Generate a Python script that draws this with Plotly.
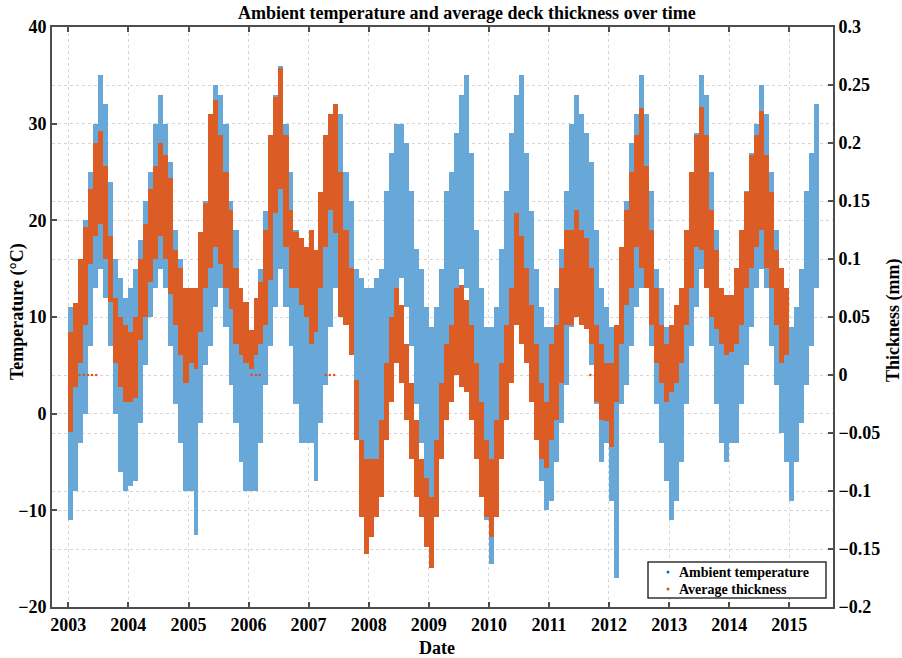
import pandas as pd
import plotly.graph_objects as go

# Monthly envelopes of the hourly records (lower / upper edge of the cloud)
temp_lo = {
    2003: [-11, -8, -3, 0, 7, 13, 15, 12, 7, 0, -6, -8],
    2004: [-7.5, -7, -1, 5, 10, 13, 15, 13, 7, 1, -3, -8],
    2005: [-8, -12.5, -1, 5, 7, 11, 13, 9, 3, -1, -5, -8],
    2006: [-8, -8, -3, 3, 7, 11, 15, 11, 7, 1, -3, -3],
    2007: [-3, -7, -1, 3, 9, 13, 15, 12, 9, 1, -3, -7],
    2008: [-7, -9, -3, 3, 7, 13, 14, 11, 7, 1, -3, -7],
    2009: [-15, -7, -3, 1, 7, 11, 15, 13, 7, 1, -3, -11],
    2010: [-15.5, -9, -1, 3, 9, 13, 16, 11, 5, -1, -7, -10],
    2011: [-9, -5, -1, 3, 9, 13, 13, 11, 5, 1, -5, -3],
    2012: [-9, -17, 1, 3, 7, 11, 13, 13, 7, 1, -3, -7],
    2013: [-11, -9, -5, 1, 7, 11, 15, 13, 7, 1, -3, -5],
    2014: [-3, -3, 1, 5, 9, 13, 15, 13, 7, 3, -2, -5],
    2015: [-9, -5, -1, 3, 7, 13],
}
temp_hi = {
    2003: [11, 10, 16, 20, 25, 30, 35, 32, 24, 16, 14, 12],
    2004: [13, 15, 18, 22, 25, 30, 33, 30, 26, 19, 16, 13],
    2005: [12, 10, 18, 22, 28, 34, 33, 30, 22, 19, 13, 10],
    2006: [8, 7, 15, 21, 27, 33, 36, 30, 25, 19, 15, 12],
    2007: [13, 11, 15, 21, 26, 30, 31, 25, 22, 15, 14, 13],
    2008: [13, 14, 15, 23, 27, 30, 30, 28, 23, 17, 15, 11],
    2009: [9, 11, 15, 23, 25, 29, 33, 35, 27, 19, 13, 9],
    2010: [9, 11, 17, 23, 29, 33, 35, 27, 21, 15, 11, 9],
    2011: [9, 13, 17, 23, 30, 33, 31, 29, 26, 19, 13, 11],
    2012: [9, 7, 17, 22, 28, 31, 35, 31, 23, 15, 13, 9],
    2013: [7, 9, 13, 19, 25, 29, 35, 33, 25, 19, 13, 11],
    2014: [10, 11, 17, 23, 27, 30, 34, 31, 25, 19, 15, 11],
    2015: [9, 11, 15, 23, 27, 32],
}
thick_lo = {
    2003: [-0.049, -0.01, 0.01, 0.043, 0.096, 0.12, 0.13, 0.10, 0.063, 0.01, -0.01, -0.023],
    2004: [-0.023, -0.02, 0.03, 0.05, 0.08, 0.10, 0.12, 0.10, 0.07, 0.043, 0.017, -0.007],
    2005: [0.01, 0.005, 0.037, 0.075, 0.092, 0.11, 0.096, 0.075, 0.057, 0.027, 0.017, 0.01],
    2006: [0.005, 0.017, 0.027, 0.043, 0.082, 0.14, 0.16, 0.11, 0.075, 0.075, 0.06, 0.05],
    2007: [0.027, 0.037, 0.075, 0.11, 0.142, 0.122, 0.05, 0.043, 0.017, -0.056, -0.122, -0.154],
    2008: [-0.14, -0.122, -0.105, -0.056, -0.023, 0.01, -0.007, -0.039, -0.072, -0.105, -0.122, -0.148],
    2009: [-0.166, -0.122, -0.072, -0.039, -0.023, 0.0, -0.01, -0.015, -0.039, -0.072, -0.105, -0.122],
    2010: [-0.14, -0.122, -0.072, -0.039, -0.007, 0.043, 0.027, 0.01, -0.023, -0.056, -0.072, -0.08],
    2011: [-0.056, -0.039, -0.007, 0.043, 0.043, 0.05, 0.043, 0.04, 0.027, -0.023, -0.039, -0.04],
    2012: [-0.062, -0.023, 0.027, 0.06, 0.075, 0.11, 0.092, 0.075, 0.043, 0.01, -0.007, -0.023],
    2013: [-0.015, -0.007, 0.01, 0.043, 0.075, 0.11, 0.108, 0.075, 0.05, 0.04, 0.027, 0.017],
    2014: [0.02, 0.027, 0.043, 0.075, 0.092, 0.11, 0.125, 0.092, 0.075, 0.043, 0.01, 0.017],
}
thick_hi = {
    2003: [0.037, 0.062, 0.10, 0.128, 0.16, 0.20, 0.21, 0.18, 0.12, 0.066, 0.05, 0.043],
    2004: [0.037, 0.05, 0.10, 0.13, 0.16, 0.18, 0.20, 0.19, 0.17, 0.108, 0.092, 0.075],
    2005: [0.075, 0.075, 0.123, 0.148, 0.225, 0.237, 0.207, 0.175, 0.142, 0.092, 0.075, 0.063],
    2006: [0.039, 0.066, 0.08, 0.125, 0.207, 0.24, 0.265, 0.207, 0.142, 0.123, 0.118, 0.11],
    2007: [0.125, 0.108, 0.158, 0.207, 0.225, 0.234, 0.175, 0.125, 0.092, -0.004, -0.056, -0.072],
    2008: [-0.072, -0.072, -0.039, 0.01, 0.05, 0.075, 0.06, 0.027, -0.007, -0.039, -0.072, -0.089],
    2009: [-0.105, -0.056, -0.007, 0.027, 0.043, 0.075, 0.078, 0.065, 0.043, 0.01, -0.023, -0.056],
    2010: [-0.072, -0.039, 0.01, 0.043, 0.075, 0.14, 0.12, 0.092, 0.06, 0.027, -0.007, -0.023],
    2011: [0.027, 0.043, 0.092, 0.125, 0.125, 0.142, 0.125, 0.118, 0.092, 0.043, 0.027, 0.01],
    2012: [0.01, 0.043, 0.11, 0.142, 0.175, 0.207, 0.23, 0.18, 0.125, 0.075, 0.043, 0.027],
    2013: [0.043, 0.06, 0.075, 0.125, 0.175, 0.207, 0.231, 0.207, 0.142, 0.108, 0.075, 0.069],
    2014: [0.069, 0.092, 0.125, 0.158, 0.19, 0.207, 0.228, 0.19, 0.158, 0.108, 0.092, 0.075],
}

# Gaps in the thickness record that were stored as zero
zero_dates = ["2003-03-10", "2003-04-05", "2003-05-01", "2003-05-25", "2003-06-20",
              "2006-01-20", "2006-02-15", "2006-03-10",
              "2007-04-15", "2007-05-10", "2007-06-05",
              "2011-09-10", "2011-10-10"]
zero_vals = [0.0] * len(zero_dates)

year_ticks = list(range(2003, 2016))
temp_ticks = [-20, -10, 0, 10, 20, 30, 40]
thick_ticks = [-0.2, -0.15, -0.1, -0.05, 0, 0.05, 0.1, 0.15, 0.2, 0.25, 0.3]
legend_labels = ["Ambient temperature", "Average thickness"]

DAY_MS = 24 * 3600 * 1000


def monthly(series):
    """Flatten {year: [12 monthly values]} into month-centred dates, widths and values."""
    centres, widths, vals = [], [], []
    for yr in sorted(series):
        for m, v in enumerate(series[yr], start=1):
            start = pd.Timestamp(yr, m, 1)
            days = start.days_in_month
            centres.append(start + pd.Timedelta(hours=12 * days))
            widths.append(days * DAY_MS)
            vals.append(v)
    return centres, widths, vals


t_dates, t_w, t_lo = monthly(temp_lo)
_, _, t_hi = monthly(temp_hi)
h_dates, h_w, h_lo = monthly(thick_lo)
_, _, h_hi = monthly(thick_hi)

BLUE = "#0072BD"
ORANGE = "#D95319"
FONT = "Liberation Serif"
TXT = dict(family=FONT, size=18, color="black", weight="bold")

# Plot-area geometry in pixels (used to place the free-standing texts)
W, H = 902, 658
L, R, T, B = 52, 69, 27, 51
PW, PH = W - L - R, H - T - B


def px(xp):
    return (xp - L) / PW


def py(yp):
    return (H - B - yp) / PH


fig = go.Figure()

fig.add_trace(go.Bar(
    x=t_dates, base=t_lo, y=[h - l for h, l in zip(t_hi, t_lo)],
    width=t_w, yaxis="y", showlegend=False, hoverinfo="skip",
    marker=dict(color="rgb(104,168,216)", line=dict(width=0)),
))
fig.add_trace(go.Bar(
    x=h_dates, base=h_lo, y=[h - l for h, l in zip(h_hi, h_lo)],
    width=h_w, yaxis="y2", showlegend=False, hoverinfo="skip",
    marker=dict(color="rgb(219,92,37)", line=dict(width=0)),
))
fig.add_trace(go.Scatter(
    x=zero_dates, y=zero_vals, yaxis="y2", mode="markers", showlegend=False,
    marker=dict(color=ORANGE, size=2.5), hoverinfo="skip",
))

axis_common = dict(
    showline=True, linecolor="#4d4d4d", linewidth=2,
    ticks="inside", ticklen=5, tickcolor="#4d4d4d", tickwidth=1.5,
    showgrid=True, gridcolor="#d6d6d6", griddash="dot", gridwidth=1,
    zeroline=False, automargin=False,
    tickfont=TXT,
)

fig.update_layout(
    width=W, height=H,
    margin=dict(l=L, r=R, t=T, b=B),
    paper_bgcolor="white", plot_bgcolor="white",
    barmode="overlay", bargap=0, showlegend=False,
    xaxis=dict(
        type="date", range=["2002-09-24", "2015-09-24"],
        tickvals=[f"{y}-01-01" for y in year_ticks], ticktext=[str(y) for y in year_ticks],
        mirror="ticks", **axis_common,
    ),
    yaxis=dict(range=[-20, 40], tickvals=temp_ticks, mirror=True, **axis_common),
    yaxis2=dict(range=[-0.2, 0.3], tickvals=thick_ticks, overlaying="y", side="right",
                **axis_common),
)

# Title and axis titles
ann = [
    dict(text="Ambient temperature and average deck thickness over time",
         x=px(467), y=py(13), textangle=0),
    dict(text="Temperature (°C)", x=px(17), y=py(312), textangle=-90),
    dict(text="Thickness (mm)", x=px(893), y=py(320), textangle=-90),
    dict(text="Date", x=px(437), y=py(648), textangle=0),
]
for a in ann:
    fig.add_annotation(xref="paper", yref="paper", showarrow=False,
                       xanchor="center", yanchor="middle", font=TXT, **a)

# Legend box drawn inside the lower-right corner of the axes
fig.add_shape(type="rect", xref="paper", yref="paper",
              x0=px(648), x1=px(826), y0=py(598), y1=py(562),
              line=dict(color="#333333", width=1.5), fillcolor="white", layer="above")
for i, (lab, col) in enumerate(zip(legend_labels, [BLUE, ORANGE])):
    yc = 572 + i * 17
    fig.add_shape(type="circle", xref="paper", yref="paper",
                  x0=px(666.5), x1=px(669.5), y0=py(yc + 1.5), y1=py(yc - 1.5),
                  line=dict(width=0), fillcolor=col, layer="above")
    fig.add_annotation(xref="paper", yref="paper", showarrow=False,
                       x=px(677), y=py(yc), xanchor="left", yanchor="middle", text=lab,
                       font=dict(family=FONT, size=14, color="black", weight="bold"))

fig.write_html("out.html")
